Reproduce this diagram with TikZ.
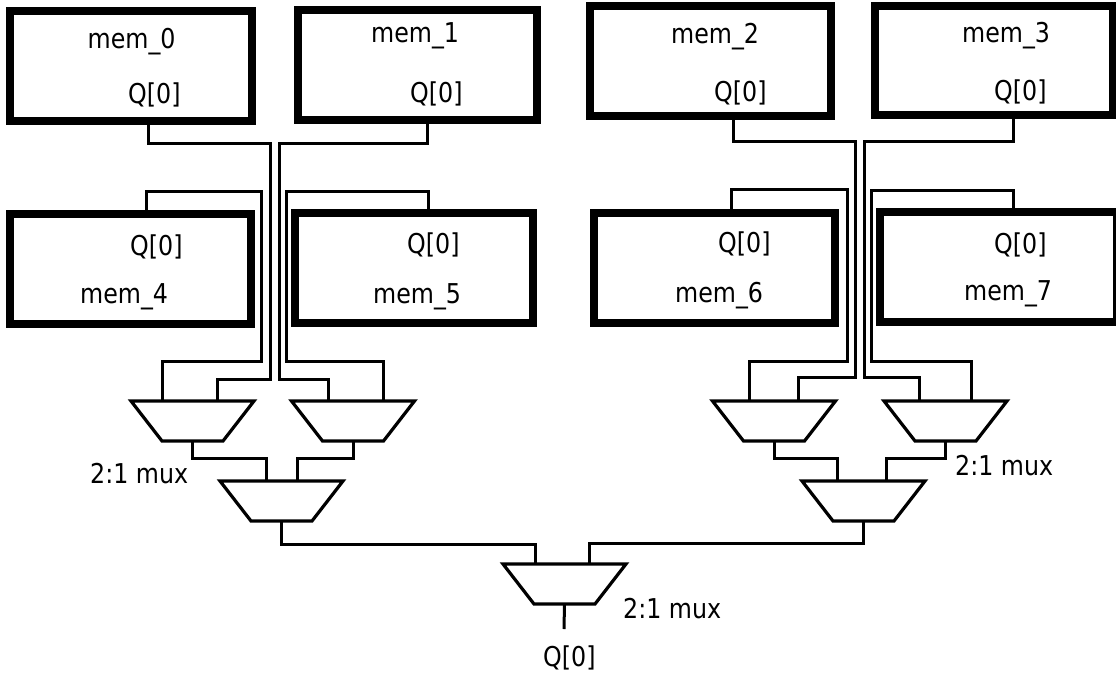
\documentclass[tikz,border=0pt]{standalone}
\usepackage{fontspec}
\setmainfont[FakeStretch=0.87]{DejaVu Sans}
\tikzset{
  memb/.style={draw=black,line width=8pt,fill=white,rectangle,inner sep=0pt,outer sep=0pt,anchor=north west},
  wire/.style={draw=black,line width=3pt,line join=miter},
  muxbox/.style={rectangle,minimum width=123pt,minimum height=40pt,inner sep=0pt,outer sep=0pt,anchor=center},
  muxline/.style={draw=black,fill=white,line width=3.2pt,line join=miter},
  lab/.style={anchor=base west,inner sep=0pt,font=\fontsize{27.3pt}{30pt}\selectfont,text=black}
}
\newcommand{\muxdraw}[3]{%
  \node[muxbox] (#1) at (#2,#3) {};
  \draw[muxline] (#1.north west) -- (#1.north east) -- ([xshift=-31pt]#1.south east) -- ([xshift=31pt]#1.south west) -- cycle;
}
\begin{document}
\begin{tikzpicture}[x=1pt,y=-1pt]
\useasboundingbox (0,0) rectangle (1116,675);
\clip (0,0) rectangle (1116,675);
% port coordinates on the memory boxes
\coordinate (q0) at (148,121);
\coordinate (q1) at (427,120);
\coordinate (q2) at (733,116);
\coordinate (q3) at (1013,115);
\coordinate (q4) at (146,214);
\coordinate (q5) at (428,213);
\coordinate (q6) at (731,213);
\coordinate (q7) at (1013,212);
% wires first
\coordinate (i0) at (217,401);
\coordinate (i4) at (162,401);
\coordinate (i1) at (328,401);
\coordinate (i5) at (383,401);
\coordinate (i2) at (798,401);
\coordinate (i6) at (749,401);
\coordinate (i3) at (919,401);
\coordinate (i7) at (971,401);
\draw[wire] (q0) |- (270,143) -- (270,379) -| (i0);
\draw[wire] (q4) |- (261,191) -- (261,361) -| (i4);
\draw[wire] (q1) |- (279,143) -- (279,379) -| (i1);
\draw[wire] (q5) |- (286,191) -- (286,361) -| (i5);
\draw[wire] (q2) |- (855,141) -- (855,377) -| (i2);
\draw[wire] (q6) |- (847,189) -- (847,361) -| (i6);
\draw[wire] (q3) |- (864,141) -- (864,377) -| (i3);
\draw[wire] (q7) |- (871,190) -- (871,361) -| (i7);
% memory boxes
\node[memb,minimum width=241.5pt,minimum height=110pt] (mem0) at (10.4,11) {};
\node[memb,minimum width=238.7pt,minimum height=110pt] (mem1) at (298,10) {};
\node[memb,minimum width=240.5pt,minimum height=109.7pt] (mem2) at (590.4,6.3) {};
\node[memb,minimum width=238pt,minimum height=109pt] (mem3) at (875,6) {};
\node[memb,minimum width=241pt,minimum height=110pt] (mem4) at (10,214) {};
\node[memb,minimum width=238.3pt,minimum height=110pt] (mem5) at (295,213.3) {};
\node[memb,minimum width=241pt,minimum height=109.7pt] (mem6) at (594,213) {};
\node[memb,minimum width=237pt,minimum height=110pt] (mem7) at (880,212) {};
% multiplexers
\muxdraw{m45}{192.5}{421}
\muxdraw{m15}{353}{421}
\muxdraw{m26}{774}{421}
\muxdraw{m37}{945.5}{421}
\muxdraw{mL}{281.5}{501}
\muxdraw{mR}{863.5}{501}
\muxdraw{mO}{564.5}{584}
\coordinate (oUL1) at (266,481);
\coordinate (oUL2) at (297,481);
\coordinate (oUR1) at (837,481);
\coordinate (oUR2) at (886,481);
\coordinate (oC1) at (535,564);
\coordinate (oC2) at (589,564);
\coordinate (qout) at (564,629);
\draw[wire] (m45.south) |- (266,458) -- (oUL1);
\draw[wire] (m15.south) |- (297,458) -- (oUL2);
\draw[wire] (m26.south) |- (837,458) -- (oUR1);
\draw[wire] (m37.south) |- (886,458) -- (oUR2);
\draw[wire] (mL.south) |- (535,544) -- (oC1);
\draw[wire] (mR.south) |- (589,543) -- (oC2);
\draw[wire] (mO.south) -- (qout);
% texts
\node[lab] (t0) at (87.5,48) {mem\_0};
\node[lab] (t1) at (371,42) {mem\_1};
\node[lab] (t2) at (671,43) {mem\_2};
\node[lab] (t3) at (962,42) {mem\_3};
\node[lab] (t4) at (80,303) {mem\_4};
\node[lab] (t5) at (373,303) {mem\_5};
\node[lab] (t6) at (675,302) {mem\_6};
\node[lab] (t7) at (964,300) {mem\_7};
\node[lab] (q0t) at (128,103) {Q[0]};
\node[lab] (q1t) at (410,102) {Q[0]};
\node[lab] (q2t) at (714,101) {Q[0]};
\node[lab] (q3t) at (994,100) {Q[0]};
\node[lab] (q4t) at (130,255) {Q[0]};
\node[lab] (q5t) at (407,253) {Q[0]};
\node[lab] (q6t) at (718,252) {Q[0]};
\node[lab] (q7t) at (994,253) {Q[0]};
\node[lab] (qot) at (543,666) {Q[0]};
\node[lab] (mx1) at (90,483) {2:1 mux};
\node[lab] (mx2) at (955,475) {2:1 mux};
\node[lab] (mx3) at (623,618) {2:1 mux};
\end{tikzpicture}
\end{document}
